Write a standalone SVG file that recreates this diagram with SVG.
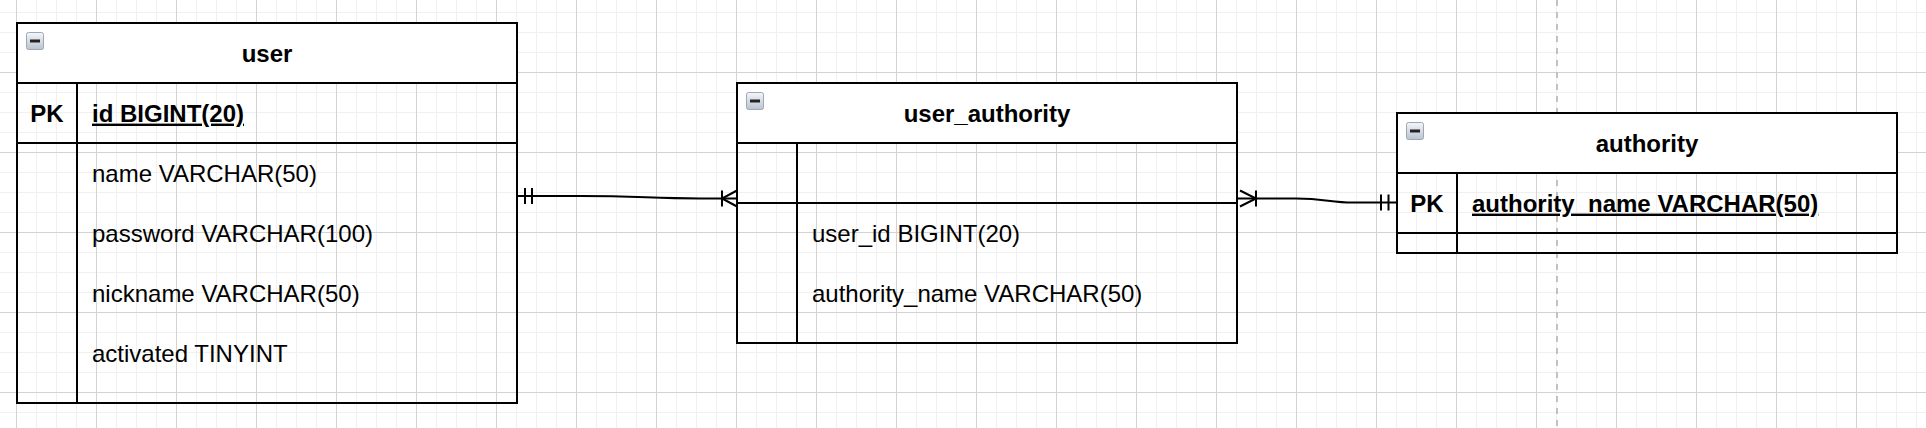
<svg xmlns="http://www.w3.org/2000/svg" width="1926" height="428" viewBox="0 0 1926 428">
<style>
.frame{fill:none;stroke:#000;stroke-width:2}
.head{fill:#fff;stroke:#000;stroke-width:2}
.ln{stroke:#000;stroke-width:2;fill:none}
.ttl{font-family:"Liberation Sans",Arial,sans-serif;font-size:24px;font-weight:bold;fill:#000;text-anchor:middle}
.pk{font-family:"Liberation Sans",Arial,sans-serif;font-size:24px;font-weight:bold;fill:#000;text-anchor:middle}
.pkf{font-family:"Liberation Sans",Arial,sans-serif;font-size:24px;font-weight:bold;fill:#000;text-decoration:underline}
.fld{font-family:"Liberation Sans",Arial,sans-serif;font-size:24px;fill:#000}
.edge{stroke:#000;stroke-width:2;fill:none}
</style>
<defs>
<pattern id="grid" x="16" y="-8" width="80" height="80" patternUnits="userSpaceOnUse">
<path d="M20.5 0V80M40.5 0V80M60.5 0V80M0 20.5H80M0 40.5H80M0 60.5H80" stroke="#f0f0f0" stroke-width="1" fill="none"/>
<path d="M0.5 0V80M0 0.5H80" stroke="#d3d3d3" stroke-width="1" fill="none"/>
</pattern>
<linearGradient id="icg" x1="0" y1="0" x2="0" y2="1">
<stop offset="0" stop-color="#f4f6f9"/>
<stop offset="1" stop-color="#b9c3cf"/>
</linearGradient>
<g id="icon">
<rect x="0.5" y="0.5" width="17" height="17" rx="2" fill="url(#icg)" stroke="#9aa8b8" stroke-width="1"/>
<rect x="4" y="7.5" width="10" height="3" fill="#222"/>
</g>
</defs>
<rect width="1926" height="428" fill="#fff"/>
<rect width="1926" height="428" fill="url(#grid)"/>
<line x1="1557" y1="0" x2="1557" y2="428" stroke="#c2c2c2" stroke-width="2" stroke-dasharray="6 6"/>

<g id="user">
<rect class="head" x="17" y="23" width="500" height="60"/>
<use href="#icon" x="26" y="32"/>
<text class="ttl" x="267" y="61.5">user</text>
<rect class="frame" x="17" y="23" width="500" height="380"/>
<line class="ln" x1="17" y1="143" x2="517" y2="143"/>
<line class="ln" x1="77" y1="83" x2="77" y2="403"/>
<text class="pk" x="47" y="121.6">PK</text>
<text class="pkf" x="92" y="121.6">id BIGINT(20)</text>
<text class="fld" x="92" y="181.6">name VARCHAR(50)</text>
<text class="fld" x="92" y="241.6">password VARCHAR(100)</text>
<text class="fld" x="92" y="301.6">nickname VARCHAR(50)</text>
<text class="fld" x="92" y="361.6">activated TINYINT</text>
</g>

<g id="user_authority">
<rect class="head" x="737" y="83" width="500" height="60"/>
<use href="#icon" x="746" y="92"/>
<text class="ttl" x="987" y="121.6">user_authority</text>
<rect class="frame" x="737" y="83" width="500" height="260"/>
<line class="ln" x1="737" y1="203" x2="1237" y2="203"/>
<line class="ln" x1="797" y1="143" x2="797" y2="343"/>
<text class="fld" x="812" y="241.6">user_id BIGINT(20)</text>
<text class="fld" x="812" y="301.6">authority_name VARCHAR(50)</text>
</g>

<g id="authority">
<rect class="head" x="1397" y="113" width="500" height="60"/>
<use href="#icon" x="1406" y="122"/>
<text class="ttl" x="1647" y="151.6">authority</text>
<rect class="frame" x="1397" y="113" width="500" height="140"/>
<line class="ln" x1="1397" y1="233" x2="1897" y2="233"/>
<line class="ln" x1="1457" y1="173" x2="1457" y2="253"/>
<text class="pk" x="1427" y="211.6">PK</text>
<text class="pkf" x="1472" y="211.6">authority_name VARCHAR(50)</text>
</g>

<g id="connectors">
<path class="edge" d="M517 196L580 196C640 196 650 198.5 700 198.5L737 198.5"/>
<path class="edge" d="M525 188V204M532 188V204"/>
<path class="edge" d="M722 190.5V206.5M737 190.5L722 198.5L737 206.5"/>
<path class="edge" d="M1237 198.5L1296 198.5C1325 198.5 1330 202.5 1353 202.5L1397 202.5"/>
<path class="edge" d="M1240 190.5L1256 198.5L1240 206.5M1256 190.5V206.5"/>
<path class="edge" d="M1381 194.5V210.5M1388.5 194.5V210.5"/>
</g>
</svg>
